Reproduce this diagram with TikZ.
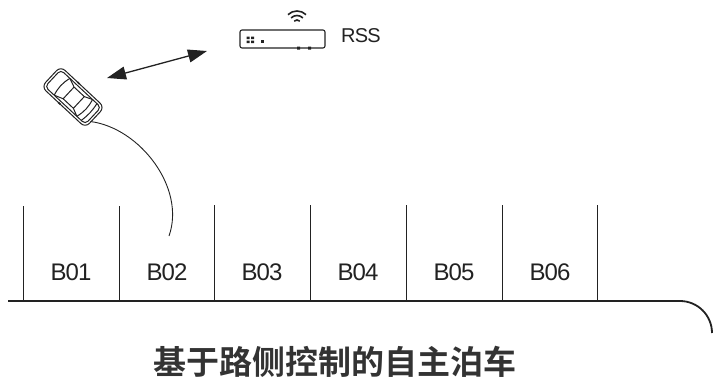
\documentclass[tikz,border=0pt]{standalone}
\usepackage{fontspec}
\setmainfont{Liberation Sans}
\newfontfamily\tightsans[LetterSpace=-4]{Liberation Sans}
\newfontfamily\cjk[BoldFont={Noto Sans CJK SC Bold}]{Noto Sans CJK SC}
\usetikzlibrary{arrows.meta}
\definecolor{ink}{HTML}{222222}
\definecolor{titleink}{HTML}{333333}
\tikzset{
  bayline/.style={draw=ink, line width=0.9pt},
  kerb/.style={draw=ink, line width=1.8pt},
  baylabel/.style={font=\tightsans\fontsize{24}{24}\selectfont, text=ink, inner sep=0pt},
  carline/.style={draw=ink, line width=1pt},
  link/.style={draw=ink, line width=1.3pt,
    {Triangle[length=19pt,width=13pt]}-{Triangle[length=19pt,width=13pt]}},
  track/.style={draw=ink, line width=0.9pt},
  devline/.style={draw=ink, line width=1.1pt},
}
\begin{document}
\begin{tikzpicture}[x=1pt, y=-1pt]
\useasboundingbox (0,0) rectangle (713,381);

% kerb line with rounded end
\draw[kerb] (8,301) -- (680,301) arc (270:360:32);

% bay dividers
\foreach \bx/\ty in {23/206,119/206,214/205,310/205,406/205,502/205,597/205}
  \draw[bayline] (\bx,\ty) -- (\bx,301);

% bay labels
\node[baylabel] (b1) at (71,272) {B01};
\node[baylabel] (b2) at (167,272) {B02};
\node[baylabel] (b3) at (262,272) {B03};
\node[baylabel] (b4) at (358,272) {B04};
\node[baylabel] (b5) at (454,272) {B05};
\node[baylabel] (b6) at (550,272) {B06};

% roadside station
\draw[devline, rounded corners=2pt] (240,30) rectangle (325,48);
\fill[ink] (246.5,36.5) rectangle (249.5,39) (251,36.5) rectangle (254,39)
           (246.5,40.5) rectangle (249.5,43) (251,40.5) rectangle (254,43);
\fill[ink] (261,40) rectangle (264,43);
\fill[ink] (297,46.5) rectangle (300,49.5) (308,46.5) rectangle (311,49.5);
\foreach \r in {4,8.5,13}
  \draw[ink, line width=1.6pt] (297,24) ++(226:\r) arc (226:314:\r);
\node[font=\tightsans\fontsize{20}{20}\selectfont, text=ink, inner sep=0pt, anchor=west]
  (rss) at (341,35.5) {RSS};

% vehicle
\begin{scope}[shift={(73,97)}, rotate=-43]
  \draw[carline, rounded corners=6pt] (-30,-14) rectangle (30,14);
  \draw[carline, rounded corners=4pt] (-27.5,-11.5) rectangle (27.5,11.5);
  \draw[carline] (-15,-11.5) -- (-6,-8) -- (8,-8) -- (16,-11.5);
  \draw[carline] (-15,11.5) -- (-6,8) -- (8,8) -- (16,11.5);
  \draw[carline] (-15,-11.5) to[bend right=15] (-15,11.5);
  \draw[carline] (-6,-8) -- (-6,8);
  \draw[carline] (8,-8) -- (8,8);
  \draw[carline] (16,-11.5) to[bend left=15] (16,11.5);
  \draw[carline] (22,-11.5) to[bend left=10] (22,11.5);
  \draw[carline, line width=1.6pt] (-7,-14) -- (-4,-14);
  \draw[carline, line width=1.6pt] (-7,14) -- (-4,14);
  \coordinate (rear) at (29.5,6);
\end{scope}

% parking trajectory
\coordinate (bayend) at (169,236);
\draw[track] (rear) .. controls (140,128) and (186,188) .. (bayend);

% communication link
\coordinate (carside) at (107,78);
\coordinate (rssside) at (207,51);
\draw[link] (carside) -- (rssside);

% caption
\node[font=\cjk\bfseries\fontsize{33}{33}\selectfont, text=titleink, inner sep=0pt]
  (title) at (335,362) {基于路侧控制的自主泊车};
\end{tikzpicture}
\end{document}
